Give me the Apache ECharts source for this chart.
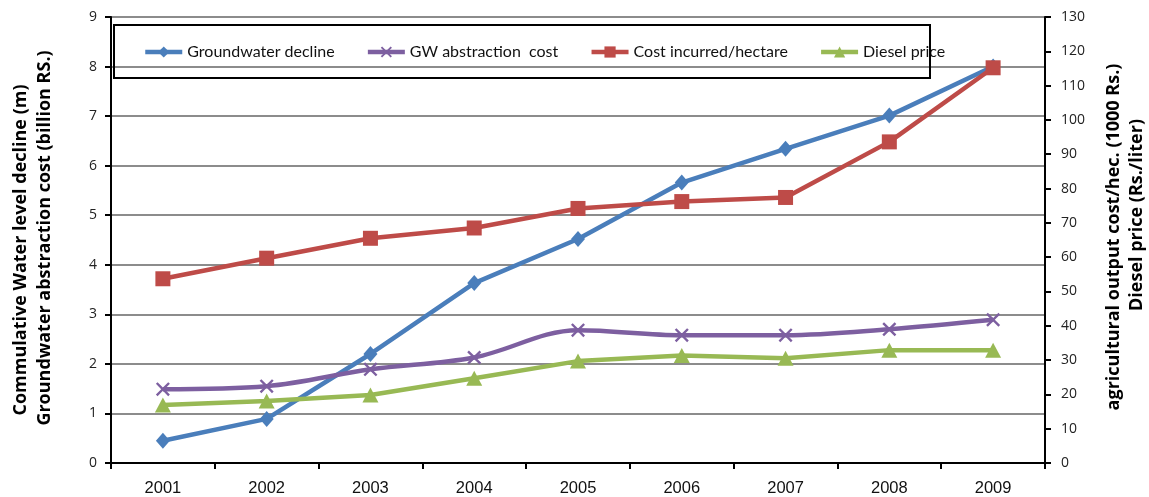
<!DOCTYPE html>
<html><head><meta charset="utf-8">
<script src="https://cdn.jsdelivr.net/npm/echarts@6/dist/echarts.min.js"></script>
<style>html,body{margin:0;padding:0;background:#fff}#c{width:1149px;height:497px}</style>
</head><body><div id="c"></div>
<script>
const years = ['2001','2002','2003','2004','2005','2006','2007','2008','2009'];
const groundwaterDecline = [0.45, 0.89, 2.20, 3.63, 4.52, 5.66, 6.34, 7.01, 8.00];
const gwAbstractionCost = [1.49, 1.55, 1.89, 2.13, 2.68, 2.58, 2.58, 2.70, 2.89];
const costPerHectare = [53.7, 59.7, 65.5, 68.5, 74.2, 76.2, 77.4, 93.6, 115.2];
const dieselPrice = [16.9, 18.1, 19.8, 24.7, 29.7, 31.3, 30.5, 32.9, 32.9];
const leftTicks = {min: 0, max: 9, interval: 1};
const rightTicks = {min: 0, max: 130, interval: 10};

const xPath = 'path://M0,1.2 L1.2,0 L5,3.8 L8.8,0 L10,1.2 L6.2,5 L10,8.8 L8.8,10 L5,6.2 L1.2,10 L0,8.8 L3.8,5 Z';
const chart = echarts.init(document.getElementById('c'), null, {renderer: 'canvas'});
const yLabel = {color: '#222', fontFamily: 'Open Sans', fontSize: 14};
const titleStyle = {fontFamily: 'Open Sans', fontWeight: 'bold', fontSize: 18, fill: '#000', align: 'center', verticalAlign: 'middle'};
chart.setOption({
  animation: false,
  grid: {left: 111, right: 104, top: 17, bottom: 32},
  legend: {
    left: 143, top: 44, padding: 0, itemWidth: 37, itemHeight: 14, itemGap: 31,
    textStyle: {fontFamily: 'Lato', fontSize: 16, color: '#111'},
    lineStyle: {width: 4.5},
    data: ['Groundwater decline', 'GW abstraction  cost', 'Cost incurred/hectare', 'Diesel price']
  },
  graphic: [
    {type: 'rect', shape: {x: 114, y: 25, width: 816, height: 53}, style: {fill: 'none', stroke: '#000', lineWidth: 2}, z: 10},
    {type: 'text', x: 21, y: 250, rotation: Math.PI/2, style: Object.assign({text: 'Commulative Water level decline (m)'}, titleStyle)},
    {type: 'text', x: 45, y: 238, rotation: Math.PI/2, style: Object.assign({text: 'Groundwater abstraction cost (billion RS.)'}, titleStyle)},
    {type: 'text', x: 1114, y: 237, rotation: Math.PI/2, style: Object.assign({text: 'agricultural output cost/hec. (1000 Rs.)'}, titleStyle)},
    {type: 'text', x: 1137, y: 215, rotation: Math.PI/2, style: Object.assign({text: 'Diesel price (Rs./liter)'}, titleStyle)}
  ],
  xAxis: [{
    type: 'category', data: years, boundaryGap: true,
    axisLine: {lineStyle: {color: '#000', width: 2}},
    axisTick: {show: true, length: 6, lineStyle: {color: '#000', width: 2}},
    axisLabel: {color: '#111', fontFamily: 'Liberation Sans', fontSize: 16.5, margin: 17}
  }, {
    type: 'category', data: years, position: 'top',
    axisLine: {show: true, lineStyle: {color: '#000', width: 2}},
    axisTick: {show: false}, axisLabel: {show: false}
  }],
  yAxis: [{
    type: 'value', min: leftTicks.min, max: leftTicks.max, interval: leftTicks.interval,
    axisLine: {show: true, lineStyle: {color: '#000', width: 2}},
    axisTick: {show: true, length: 6, lineStyle: {color: '#000', width: 2}},
    axisLabel: Object.assign({margin: 14}, yLabel),
    splitLine: {show: true, lineStyle: {color: '#8c8c8c', width: 2}}
  }, {
    type: 'value', min: rightTicks.min, max: rightTicks.max, interval: rightTicks.interval,
    axisLine: {show: true, lineStyle: {color: '#000', width: 2}},
    axisTick: {show: true, length: 6, lineStyle: {color: '#000', width: 2}},
    axisLabel: Object.assign({margin: 16}, yLabel),
    splitLine: {show: false}
  }],
  series: [
    {name: 'Groundwater decline', type: 'line', yAxisIndex: 0, data: groundwaterDecline,
     symbol: 'diamond', symbolSize: [14, 16], lineStyle: {color: '#4a7ebb', width: 4.5},
     itemStyle: {color: '#4a7ebb'}},
    {name: 'GW abstraction  cost', type: 'line', yAxisIndex: 0, data: gwAbstractionCost, smooth: 0.35,
     symbol: xPath, symbolSize: 14, lineStyle: {color: '#7d5fa0', width: 4.5},
     itemStyle: {color: '#7d5fa0'}},
    {name: 'Cost incurred/hectare', type: 'line', yAxisIndex: 1, data: costPerHectare,
     symbol: 'rect', symbolSize: 15, lineStyle: {color: '#be4b48', width: 4.5},
     itemStyle: {color: '#be4b48'}},
    {name: 'Diesel price', type: 'line', yAxisIndex: 1, data: dieselPrice,
     symbol: 'triangle', symbolSize: [16, 15], lineStyle: {color: '#98b954', width: 4.5},
     itemStyle: {color: '#98b954'}}
  ]
});
</script></body></html>
